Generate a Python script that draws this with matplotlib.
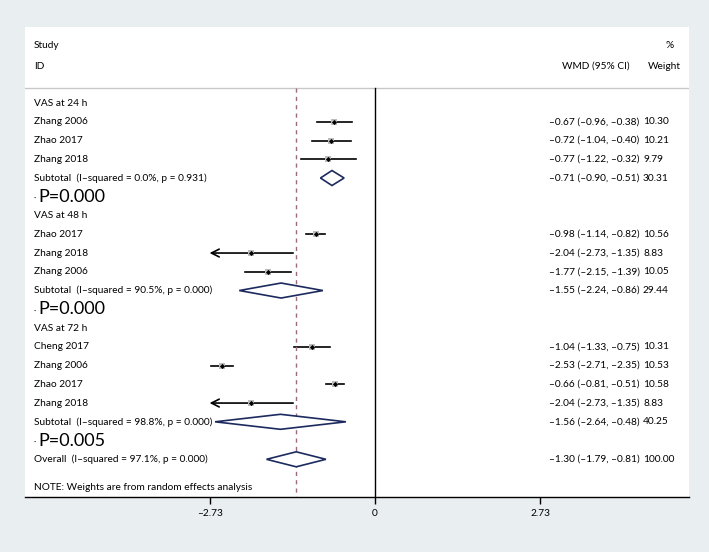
import matplotlib
matplotlib.use("Agg")
import matplotlib.pyplot as plt

plt.rcParams['font.family'] = ['Lato', 'DejaVu Sans']

# Data (WMD with 95% CI and % weight)
groups = ["VAS at 24 h", "VAS at 48 h", "VAS at 72 h"]
studies = [
    ["Zhang 2006", "Zhao 2017", "Zhang 2018"],
    ["Zhao 2017", "Zhang 2018", "Zhang 2006"],
    ["Cheng 2017", "Zhang 2006", "Zhao 2017", "Zhang 2018"],
]
wmd = [[-0.67, -0.72, -0.77], [-0.98, -2.04, -1.77], [-1.04, -2.53, -0.66, -2.04]]
ci_lo = [[-0.96, -1.04, -1.22], [-1.14, -2.73, -2.15], [-1.33, -2.71, -0.81, -2.73]]
ci_hi = [[-0.38, -0.40, -0.32], [-0.82, -1.35, -1.39], [-0.75, -2.35, -0.51, -1.35]]
weights = [[10.30, 10.21, 9.79], [10.56, 8.83, 10.05], [10.31, 10.53, 10.58, 8.83]]

sub_wmd = [-0.71, -1.55, -1.56]
sub_lo = [-0.90, -2.24, -2.64]
sub_hi = [-0.51, -0.86, -0.48]
sub_wt = [30.31, 29.44, 40.25]
sub_i2 = ["0.0%", "90.5%", "98.8%"]
sub_p = ["0.931", "0.000", "0.000"]
p_labels = ["P=0.000", "P=0.000", "P=0.005"]

overall = (-1.30, -1.79, -0.81, 100.00)
overall_i2, overall_p = "97.1%", "0.000"

xticks = [-2.73, 0, 2.73]

BG = "#e9eef1"
NAVY = "#1c2a5e"
FS = 7.3
DASH = "\u2013"


def fmt(v):
    return f"{v:.2f}".replace("-", DASH)


def ci_text(e, lo, hi):
    return f"{fmt(e)} ({fmt(lo)}, {fmt(hi)})"


fig = plt.figure(figsize=(7.09, 5.52), dpi=100, facecolor=BG)
ax = fig.add_axes([25 / 709, 55 / 552, 664 / 709, 470 / 552])
ax.set_facecolor("white")

x0 = 375
ppu = 60.6
ax.set_xlim((25 - x0) / ppu, (689 - x0) / ppu)
ax.set_ylim(21.01, -4.053)

x_lab = (34 - x0) / ppu
x_ci = (549 - x0) / ppu
x_wt = (643 - x0) / ppu


def diamond(e, lo, hi, y):
    h = 0.4
    ax.fill([lo, e, hi, e, lo], [y, y - h, y, y + h, y], facecolor="white",
            edgecolor=NAVY, lw=1.2, zorder=3)


row = 0
for g in range(len(groups)):
    ax.text(x_lab, row, groups[g], fontsize=FS, va="center")
    row += 1
    for s in range(len(studies[g])):
        e, lo, hi, w = wmd[g][s], ci_lo[g][s], ci_hi[g][s], weights[g][s]
        if lo <= xticks[0]:
            ax.annotate("", xy=(lo, row), xytext=(hi, row),
                        arrowprops=dict(arrowstyle="->", lw=1.2, color="black",
                                        mutation_scale=14, shrinkA=0, shrinkB=0))
        else:
            ax.plot([lo, hi], [row, row], color="black", lw=1.2, zorder=2)
        ax.scatter([e], [row], marker="s", s=w * 2.4, color="#bdbdbd", zorder=3, linewidths=0)
        ax.scatter([e], [row], marker="D", s=7, color="black", zorder=4, linewidths=0)
        ax.text(x_lab, row, studies[g][s], fontsize=FS, va="center")
        ax.text(x_ci, row, ci_text(e, lo, hi), fontsize=FS, va="center")
        ax.text(x_wt, row, f"{w:.2f}", fontsize=FS, va="center")
        row += 1
    diamond(sub_wmd[g], sub_lo[g], sub_hi[g], row)
    ax.text(x_lab, row, f"Subtotal  (I{DASH}squared = {sub_i2[g]}, p = {sub_p[g]})",
            fontsize=FS, va="center")
    ax.text(x_ci, row, ci_text(sub_wmd[g], sub_lo[g], sub_hi[g]), fontsize=FS, va="center")
    ax.text(x_wt, row, f"{sub_wt[g]:.2f}", fontsize=FS, va="center")
    row += 1
    ax.text(x_lab, row + 0.1, "\u00b7", fontsize=6, va="center")
    ax.text((38 - x0) / ppu, row, p_labels[g], fontsize=13, va="center")
    row += 1

e, lo, hi, w = overall
diamond(e, lo, hi, row)
ax.text(x_lab, row, f"Overall  (I{DASH}squared = {overall_i2}, p = {overall_p})",
        fontsize=FS, va="center")
ax.text(x_ci, row, ci_text(e, lo, hi), fontsize=FS, va="center")
ax.text(x_wt, row, f"{w:.2f}", fontsize=FS, va="center")
ax.text(x_lab, 20.53, "NOTE: Weights are from random effects analysis", fontsize=FS, va="center")

# header
ax.text(x_lab, -3.04, "Study", fontsize=FS, va="center")
ax.text(x_lab, -1.97, "ID", fontsize=FS, va="center")
ax.text((630 - x0) / ppu, -1.97, "WMD (95% CI)", fontsize=FS, va="center", ha="right")
ax.text((665 - x0) / ppu, -3.04, "%", fontsize=FS, va="center")
ax.text((648 - x0) / ppu, -1.97, "Weight", fontsize=FS, va="center")
ax.axhline(-0.8, color="#c8c8c8", lw=1.0)

# reference lines
ax.plot([0, 0], [-0.8, 21.01], color="black", lw=1.0)
ax.plot([e, e], [-0.8, 21.01], color="#9b6a7c", lw=1.0, ls=(0, (3, 3)))

for sp in ["top", "left", "right"]:
    ax.spines[sp].set_visible(False)
ax.spines["bottom"].set_linewidth(1.0)
ax.set_xticks(xticks)
ax.set_xticklabels([fmt(t) if t != 0 else "0" for t in xticks], fontsize=FS)
ax.tick_params(axis="x", length=5, width=1.0, pad=4)
ax.set_yticks([])

fig.savefig("out.png", dpi=100, facecolor=BG)
